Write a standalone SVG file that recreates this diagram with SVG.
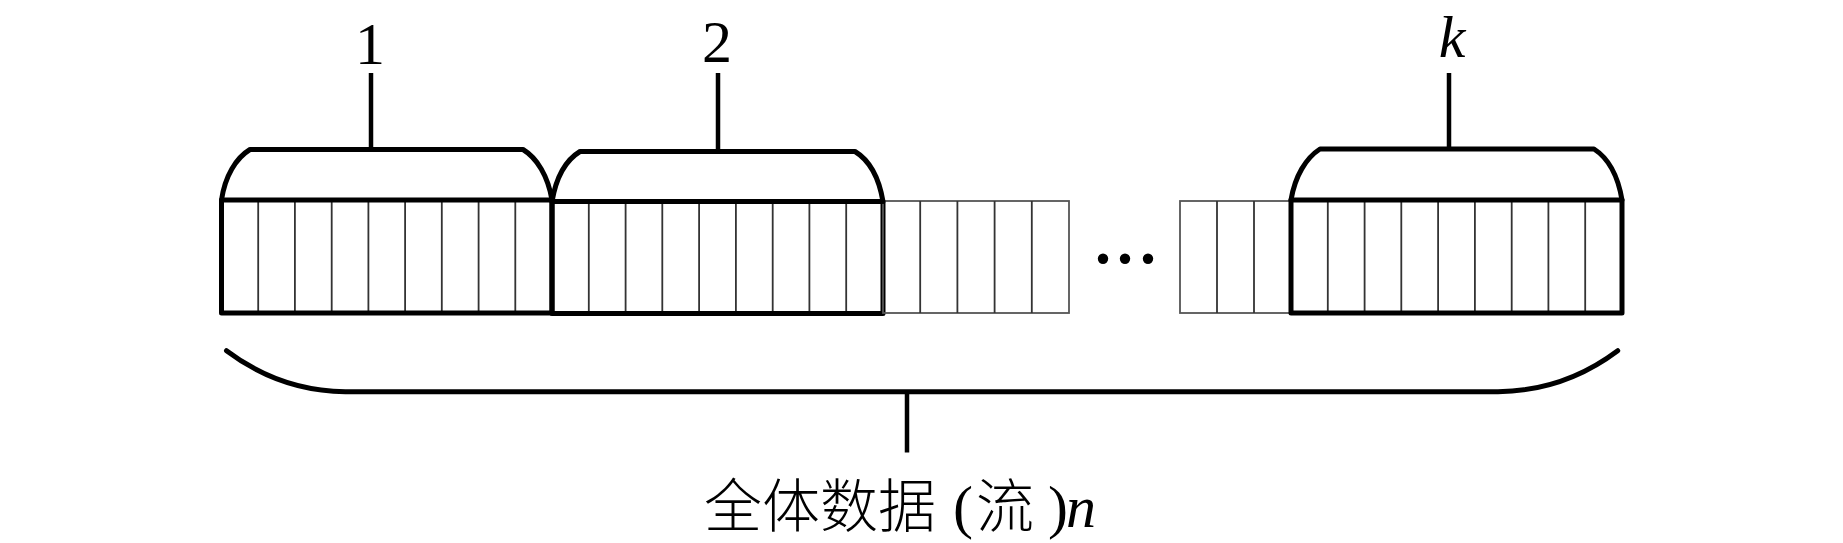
<svg xmlns="http://www.w3.org/2000/svg" width="1843" height="543" viewBox="0 0 1843 543">
<style>
.thin{stroke:#333;stroke-width:1.8;fill:none}
.faint{stroke:#555;stroke-width:1.8;fill:none}
.thick{stroke:#000;stroke-width:5;fill:none;stroke-linejoin:round}
.br{stroke:#000;stroke-width:5;fill:none;stroke-linejoin:round;stroke-linecap:round}
.stem{stroke:#000;stroke-width:4.5;fill:none}
.lbl{font-family:"Liberation Serif",serif;font-size:60px;fill:#000}
.cjk{font-family:"Noto Sans CJK SC",sans-serif;font-size:58px;font-weight:300;fill:#000}
</style>
<rect width="1843" height="543" fill="#fff"/>
<g id="block1">
<path class="thin" d="M258.2,200V313M294.9,200V313M331.7,200V313M368.4,200V313M405.1,200V313M441.8,200V313M478.6,200V313M515.3,200V313"/>
<rect class="thick" x="221.5" y="200" width="330.5" height="113"/>
</g>
<g id="block2">
<path class="thin" d="M588.8,201.5V313.5M625.6,201.5V313.5M662.3,201.5V313.5M699.1,201.5V313.5M735.9,201.5V313.5M772.7,201.5V313.5M809.4,201.5V313.5M846.2,201.5V313.5"/>
<rect class="thick" x="552" y="201.5" width="331" height="112"/>
</g>
<g id="cells-mid1">
<rect class="faint" x="883" y="201" width="186" height="112"/>
<path class="thin" d="M920.2,201V313M957.4,201V313M994.6,201V313M1031.8,201V313"/>
</g>
<g id="ellipsis">
<circle cx="1103" cy="258.7" r="5.2"/>
<circle cx="1125" cy="258.7" r="5.2"/>
<circle cx="1148" cy="258.7" r="5.2"/>
</g>
<g id="cells-mid2">
<rect class="faint" x="1180" y="201" width="111" height="112"/>
<path class="thin" d="M1217,201V313M1254,201V313"/>
</g>
<g id="blockk">
<path class="thin" d="M1327.8,200V313M1364.6,200V313M1401.3,200V313M1438.1,200V313M1474.9,200V313M1511.7,200V313M1548.4,200V313M1585.2,200V313"/>
<rect class="thick" x="1291" y="200" width="331" height="113"/>
</g>
<g id="connectors">
<path class="br" d="M221.5,200C225,176 236,158 250,149.5H523C537,158 548,176 552,200"/>
<path class="stem" d="M371,73V149.5"/>
<path class="br" d="M552,201.5C556,178 566,160 580,151.5H855C869,160 879,178 883,201.5"/>
<path class="stem" d="M718,73V151.5"/>
<path class="br" d="M1291,200C1295,176 1306,158 1320,149H1594C1608,158 1618,176 1622,200"/>
<path class="stem" d="M1449,73V149"/>
<path class="br" d="M226.5,350.7Q280,391 345.4,391.7H1498Q1564,391 1617.7,350.7"/>
<path class="stem" d="M907,391.7V452.5"/>
</g>
<g id="labels">
<text class="lbl" x="370" y="64" text-anchor="middle">1</text>
<text class="lbl" x="717" y="62" text-anchor="middle">2</text>
<text class="lbl" x="1452" y="57" text-anchor="middle" font-style="italic">k</text>
<text id="total" y="527"><tspan class="cjk" x="704">全体数据 </tspan><tspan class="lbl" x="953" font-size="64">(</tspan><tspan class="cjk" x="976">流 </tspan><tspan class="lbl" x="1048" font-size="64">)</tspan><tspan class="lbl" x="1066" font-size="64" font-style="italic">n</tspan></text>
</g>
</svg>
